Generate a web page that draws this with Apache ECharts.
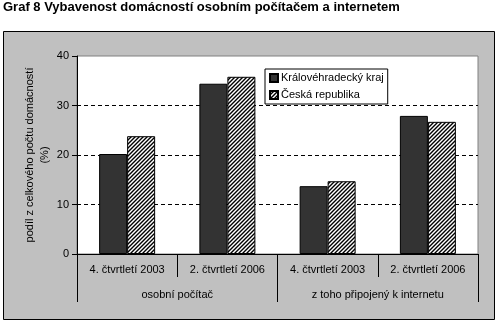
<!DOCTYPE html>
<html>
<head>
<meta charset="utf-8">
<script src="https://cdn.jsdelivr.net/npm/echarts@6/dist/echarts.min.js"></script>
<style>
  html, body { margin: 0; padding: 0; background: #fff; }
  #chart { width: 500px; height: 325px; }
</style>
</head>
<body>
<div id="chart"></div>
<script>
// Household equipment with a PC and internet access (% of all households)
const periods = ['4. čtvrtletí 2003', '2. čtvrtletí 2006', '4. čtvrtletí 2003', '2. čtvrtletí 2006'];
const groups = ['osobní počítač', 'z toho připojený k internetu'];
const seriesNames = ['Královéhradecký kraj', 'Česká republika'];
const kralovehradecky = [20.2, 34.4, 13.7, 27.9];
const ceskaRepublika = [23.8, 35.8, 14.7, 26.7];
const yTicks = [0, 10, 20, 30, 40];

// diagonal hatch fill for the national series
function hatch() {
  const c = document.createElement('canvas');
  c.width = 4; c.height = 4;
  const g = c.getContext('2d');
  g.fillStyle = '#fff';
  g.fillRect(0, 0, 4, 4);
  g.strokeStyle = '#000';
  g.lineWidth = 1.4;
  g.beginPath();
  g.moveTo(-1, 5); g.lineTo(5, -1);
  g.moveTo(-1, 1); g.lineTo(1, -1);
  g.moveTo(3, 5); g.lineTo(5, 3);
  g.stroke();
  return { image: c, repeat: 'repeat' };
}

const font = 'Arial, "Liberation Sans", sans-serif';
const chart = echarts.init(document.getElementById('chart'), null, { renderer: 'canvas' });

chart.setOption({
  animation: false,
  textStyle: { fontFamily: font, color: '#000' },
  title: {
    text: 'Graf 8 Vybavenost domácností osobním počítačem a internetem',
    left: 1, top: -1, padding: 2,
    textStyle: { fontFamily: font, fontSize: 13, fontWeight: 'bold', color: '#000' }
  },
  graphic: [{
    type: 'rect', z: -10, silent: true,
    shape: { x: 3.5, y: 31.5, width: 491, height: 288 },
    style: { fill: '#c0c0c0', stroke: '#000', lineWidth: 1 }
  }],
  legend: {
    left: 265, top: 69, orient: 'vertical',
    backgroundColor: '#fff', borderColor: '#000', borderWidth: 1,
    padding: [3, 4, 3, 4], itemGap: 5,
    itemWidth: 8, itemHeight: 8, icon: 'rect',
    textStyle: { fontFamily: font, fontSize: 11, lineHeight: 12, color: '#000', padding: [0, 0, 0, -2] },
    data: seriesNames
  },
  grid: {
    left: 77, top: 56, right: 22, bottom: 71,
    show: true, backgroundColor: '#fff', borderColor: '#808080', borderWidth: 1
  },
  xAxis: [{
    type: 'category', data: periods, position: 'bottom',
    axisLine: { lineStyle: { color: '#000', width: 1 } },
    axisTick: { show: true, interval: 0, length: 23, lineStyle: { color: '#000' } },
    axisLabel: { interval: 0, margin: 10, fontSize: 11, color: '#000', fontFamily: font }
  }, {
    type: 'category', data: groups, position: 'bottom',
    axisLine: { show: false },
    axisTick: { show: true, interval: 0, length: 48, lineStyle: { color: '#000' } },
    axisLabel: { interval: 0, margin: 35, fontSize: 11, color: '#000', fontFamily: font }
  }],
  yAxis: {
    type: 'value', min: yTicks[0], max: yTicks[yTicks.length - 1], interval: 10,
    name: 'podíl z celkového počtu domácností\n(%)',
    nameLocation: 'middle', nameRotate: 90, nameGap: 25, nameMoveOverlap: false,
    nameTextStyle: { fontFamily: font, fontSize: 11, color: '#000', lineHeight: 15, align: 'center' },
    axisLine: { show: true, lineStyle: { color: '#000', width: 1 } },
    axisTick: { show: true, length: 5, lineStyle: { color: '#000' } },
    axisLabel: { margin: 8, fontSize: 11, color: '#000', fontFamily: font },
    splitLine: {
      show: true, showMinLine: false, showMaxLine: false,
      lineStyle: { color: '#000', type: [4, 3], width: 1 }
    }
  },
  series: [{
    name: seriesNames[0], type: 'bar', data: kralovehradecky,
    barWidth: 28, barGap: '0%',
    itemStyle: { color: '#333333', borderColor: '#000', borderWidth: 1 }
  }, {
    name: seriesNames[1], type: 'bar', data: ceskaRepublika,
    barWidth: 28, barGap: '0%',
    itemStyle: { color: hatch(), borderColor: '#000', borderWidth: 1 }
  }]
});
</script>
</body>
</html>
